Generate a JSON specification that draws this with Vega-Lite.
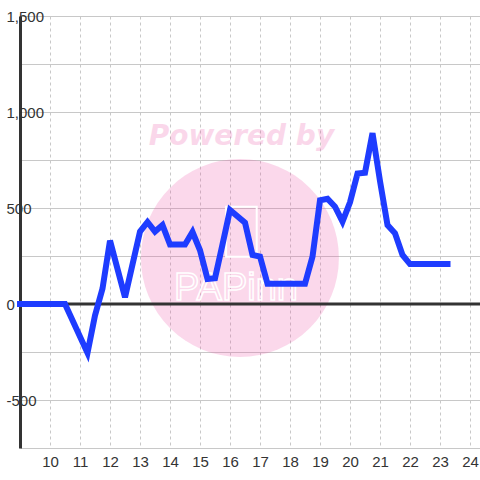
{
  "$schema": "https://vega.github.io/schema/vega-lite/v6.json",
  "width": 460,
  "height": 432,
  "autosize": {"type": "none"},
  "padding": {"left": 20, "top": 16, "right": 0, "bottom": 32},
  "background": "white",
  "config": {
    "view": {"stroke": null},
    "axis": {"labelFont": "Liberation Sans", "labelFontSize": 15, "labelColor": "#333333"},
    "axisX": {
      "grid": true,
      "gridDash": [3, 3],
      "gridColor": "#c8c8c8",
      "gridWidth": 1,
      "ticks": false,
      "tickSize": 0,
      "domainColor": "#c8c8c8",
      "domainWidth": 1,
      "labelPadding": 6,
      "labelFlush": false,
      "labelOverlap": false,
      "zindex": 0
    },
    "axisY": {
      "grid": true,
      "gridColor": "#c8c8c8",
      "gridWidth": 1,
      "ticks": false,
      "tickSize": 0,
      "domainColor": "#333333",
      "domainWidth": 3,
      "labelAlign": "left",
      "labelBaseline": "middle",
      "labelPadding": 14,
      "labelFlush": false,
      "labelOverlap": false,
      "labelExpr": "datum.value % 500 === 0 ? (datum.value < 0 ? '-' + format(-datum.value, ',') : format(datum.value, ',')) : ''",
      "zindex": 0
    }
  },
  "datasets": {
    "series": [
      {"hour": 9.0, "value": 0},
      {"hour": 10.5, "value": 0},
      {"hour": 11.25, "value": -255},
      {"hour": 11.5, "value": -60},
      {"hour": 11.75, "value": 80},
      {"hour": 12.0, "value": 330},
      {"hour": 12.5, "value": 35},
      {"hour": 13.0, "value": 377},
      {"hour": 13.25, "value": 427},
      {"hour": 13.5, "value": 377},
      {"hour": 13.75, "value": 411},
      {"hour": 14.0, "value": 310},
      {"hour": 14.5, "value": 310},
      {"hour": 14.75, "value": 375},
      {"hour": 15.0, "value": 280},
      {"hour": 15.25, "value": 130},
      {"hour": 15.5, "value": 134},
      {"hour": 15.75, "value": 310},
      {"hour": 16.0, "value": 490},
      {"hour": 16.5, "value": 424},
      {"hour": 16.75, "value": 255},
      {"hour": 17.0, "value": 247},
      {"hour": 17.25, "value": 105},
      {"hour": 18.5, "value": 105},
      {"hour": 18.75, "value": 247},
      {"hour": 19.0, "value": 540},
      {"hour": 19.25, "value": 548},
      {"hour": 19.5, "value": 507},
      {"hour": 19.75, "value": 429},
      {"hour": 20.0, "value": 530},
      {"hour": 20.25, "value": 680},
      {"hour": 20.5, "value": 684},
      {"hour": 20.75, "value": 890},
      {"hour": 21.0, "value": 640},
      {"hour": 21.25, "value": 411},
      {"hour": 21.5, "value": 368},
      {"hour": 21.75, "value": 255},
      {"hour": 22.0, "value": 208},
      {"hour": 23.25, "value": 208}
    ]
  },
  "layer": [
    {
      "data": {"values": [{}]},
      "mark": {"type": "point", "shape": "circle", "filled": true, "color": "#ec4fa4", "opacity": 0.22, "size": 39200},
      "encoding": {
        "x": {"datum": 16.33, "type": "quantitative", "scale": {"domain": [9, 24.333], "nice": false, "zero": false}, "axis": {"title": null, "values": [10, 11, 12, 13, 14, 15, 16, 17, 18, 19, 20, 21, 22, 23, 24]}},
        "y": {"datum": 240, "type": "quantitative", "scale": {"domain": [-750, 1500], "nice": false, "zero": false}, "axis": {"title": null, "values": [-500, -250, 0, 250, 500, 750, 1000, 1250, 1500]}}
      }
    },
    {
      "data": {"values": [{}]},
      "mark": {"type": "text", "text": "Powered by", "font": "DejaVu Sans", "fontStyle": "italic", "fontWeight": "bold", "fontSize": 28, "color": "#ec4fa4", "opacity": 0.22, "align": "center", "baseline": "alphabetic"},
      "encoding": {
        "x": {"datum": 16.38, "type": "quantitative", "axis": {"title": null, "values": [10, 11, 12, 13, 14, 15, 16, 17, 18, 19, 20, 21, 22, 23, 24]}},
        "y": {"datum": 828, "type": "quantitative", "axis": {"title": null, "values": [-500, -250, 0, 250, 500, 750, 1000, 1250, 1500]}}
      }
    },
    {
      "data": {"values": [{}]},
      "mark": {"type": "text", "text": "PAPinn", "font": "Liberation Sans", "fontSize": 38, "fillOpacity": 0, "stroke": "white", "strokeWidth": 1.5, "align": "center", "baseline": "alphabetic"},
      "encoding": {
        "x": {"datum": 16.2, "type": "quantitative", "axis": {"title": null, "values": [10, 11, 12, 13, 14, 15, 16, 17, 18, 19, 20, 21, 22, 23, 24]}},
        "y": {"datum": 21, "type": "quantitative", "axis": {"title": null, "values": [-500, -250, 0, 250, 500, 750, 1000, 1250, 1500]}}
      }
    },
    {
      "data": {"values": [{}]},
      "mark": {"type": "rect", "fillOpacity": 0, "stroke": "white", "strokeWidth": 2},
      "encoding": {
        "x": {"datum": 15.87, "type": "quantitative", "axis": {"title": null, "values": [10, 11, 12, 13, 14, 15, 16, 17, 18, 19, 20, 21, 22, 23, 24]}},
        "x2": {"datum": 16.89},
        "y": {"datum": 507, "type": "quantitative", "axis": {"title": null, "values": [-500, -250, 0, 250, 500, 750, 1000, 1250, 1500]}},
        "y2": {"datum": 246}
      }
    },
    {
      "data": {"values": [{}]},
      "mark": {"type": "rule", "color": "#333333", "strokeWidth": 3},
      "encoding": {
        "y": {"datum": 0, "type": "quantitative", "axis": {"title": null, "values": [-500, -250, 0, 250, 500, 750, 1000, 1250, 1500]}}
      }
    },
    {
      "data": {"name": "series"},
      "mark": {"type": "line", "color": "#1e3cff", "strokeWidth": 6, "strokeCap": "square", "strokeJoin": "miter", "clip": false},
      "encoding": {
        "x": {"field": "hour", "type": "quantitative", "axis": {"title": null, "values": [10, 11, 12, 13, 14, 15, 16, 17, 18, 19, 20, 21, 22, 23, 24]}},
        "y": {"field": "value", "type": "quantitative", "axis": {"title": null, "values": [-500, -250, 0, 250, 500, 750, 1000, 1250, 1500]}}
      }
    }
  ]
}
